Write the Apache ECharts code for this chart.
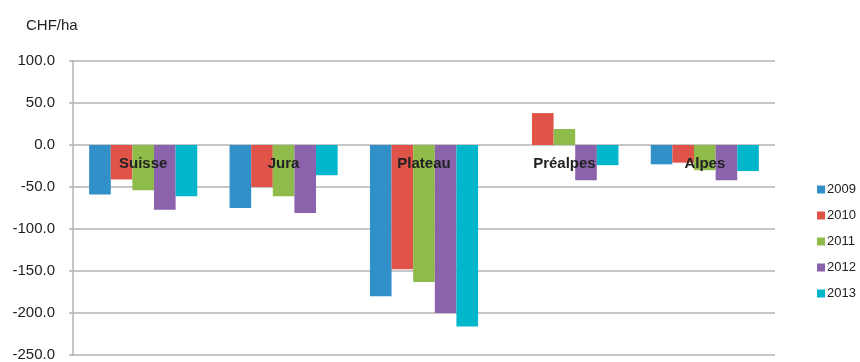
<!DOCTYPE html>
<html>
<head>
<meta charset="utf-8">
<script src="https://cdn.jsdelivr.net/npm/echarts@6/dist/echarts.min.js"></script>
<style>
  html, body { margin: 0; padding: 0; background: #fff; }
  #chart { width: 860px; height: 362px; }
</style>
</head>
<body>
<div id="chart"></div>
<script>
// categories (regions) and one value list per year
const regions = ['Suisse', 'Jura', 'Plateau', 'Préalpes', 'Alpes']
const years = ['2009', '2010', '2011', '2012', '2013']
const v2009 = [-59, -75, -180, 0, -23]
const v2010 = [-41, -50, -148, 38, -21]
const v2011 = [-54, -61, -163, 19, -30]
const v2012 = [-77, -81, -200, -42, -42]
const v2013 = [-61, -36, -216, -24, -31]
const values = [v2009, v2010, v2011, v2012, v2013]
const colors = ['#3090c7', '#e05349', '#8fbb4a', '#8b63ad', '#00b6cb']

const chart = echarts.init(document.getElementById('chart'))

chart.setOption({
  animation: false,
  color: colors,
  textStyle: { fontFamily: 'Liberation Sans, Arial, sans-serif' },
  title: {
    text: 'CHF/ha',
    left: 21,
    top: 13,
    textStyle: { fontSize: 15, fontWeight: 'normal', color: '#222' }
  },
  legend: {
    orient: 'vertical',
    left: 812,
    top: 178,
    itemWidth: 8,
    itemHeight: 8,
    itemGap: 13,
    icon: 'rect',
    textStyle: { fontSize: 13, color: '#222', padding: [0, 0, 0, -3] },
    data: years
  },
  grid: { left: 73, right: 85, top: 61, bottom: 7, outerBoundsMode: 'none', containLabel: false },
  xAxis: {
    type: 'category',
    data: regions,
    z: 5,
    // labels sit just under the zero line, drawn over the bars
    offset: -210,
    axisLine: { show: false, onZero: false },
    axisTick: { show: false },
    axisLabel: { margin: 11, fontSize: 15, fontWeight: 'bold', color: '#222' }
  },
  yAxis: {
    type: 'value',
    min: -250,
    max: 100,
    interval: 50,
    axisLine: { show: true, lineStyle: { color: '#b3b3b3', width: 1.5 } },
    axisTick: { show: true, length: 4, lineStyle: { color: '#b3b3b3', width: 1.5 } },
    axisLabel: {
      margin: 18,
      fontSize: 15,
      color: '#222',
      formatter: v => v.toFixed(1)
    },
    splitLine: { lineStyle: { color: '#b3b3b3', width: 1.5 } }
  },
  series: years.map((y, i) => ({
    name: y,
    type: 'bar',
    data: values[i],
    barGap: '0%',
    barCategoryGap: '23%'
  }))
})
</script>
</body>
</html>
